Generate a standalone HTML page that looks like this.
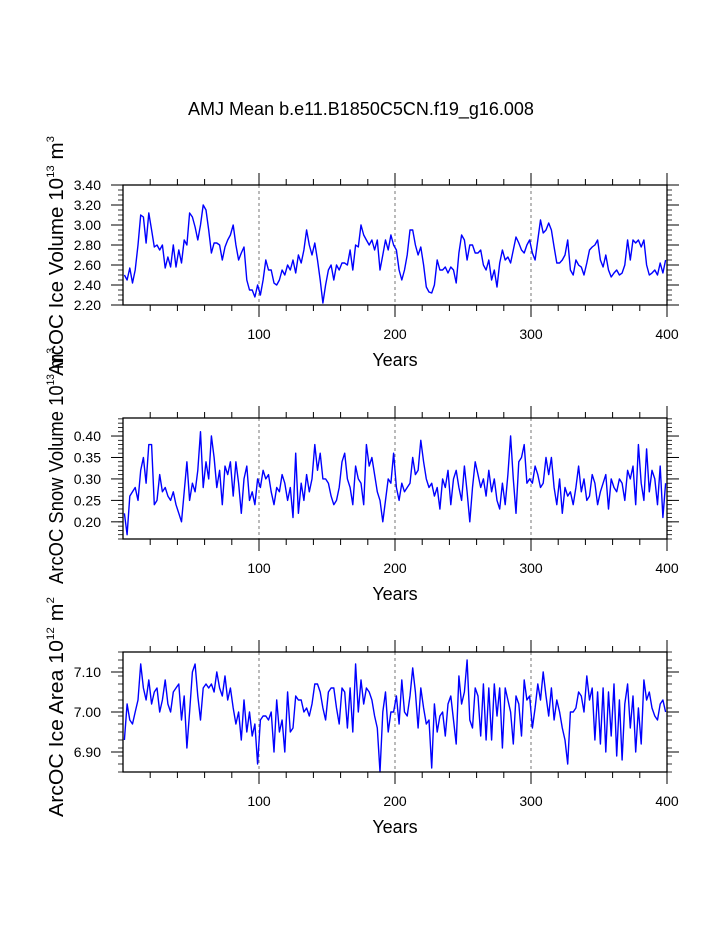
<!DOCTYPE html>
<html><head><meta charset="utf-8"><style>
html,body{margin:0;padding:0;background:#fff;}
svg{display:block;font-family:"Liberation Sans",sans-serif;}
</style></head><body>
<svg id="chart" width="723" height="935" viewBox="0 0 723 935">
<text x="361" y="115" text-anchor="middle" font-size="18">AMJ Mean b.e11.B1850C5CN.f19_g16.008</text>
<g id="plots"></g>
</svg>
<script>
const iceVolume=[2.50,2.45,2.57,2.42,2.55, 2.80,3.10,3.08,2.82,3.12, 2.95,2.78,2.80,2.75,2.80, 2.57,2.68,2.58,2.80,2.58, 2.75,2.62,2.85,2.80,3.12, 3.08,2.98,2.85,3.00,3.20, 3.15,2.95,2.72,2.82,2.82, 2.80,2.65,2.78,2.85,2.90, 3.00,2.80,2.65,2.72,2.78, 2.45,2.35,2.35,2.28,2.40,
2.30,2.45,2.65,2.55,2.55, 2.42,2.40,2.45,2.55,2.50, 2.60,2.55,2.65,2.52,2.70, 2.62,2.75,2.95,2.80,2.70, 2.82,2.65,2.45,2.22,2.40, 2.55,2.60,2.45,2.60,2.55, 2.62,2.62,2.60,2.75,2.55, 2.80,2.78,3.00,2.90,2.85, 2.80,2.85,2.75,2.85,2.55, 2.70,2.85,2.75,2.90,2.80,
2.75,2.55,2.45,2.55,2.70, 2.95,2.95,2.80,2.70,2.78, 2.60,2.38,2.33,2.32,2.40, 2.65,2.55,2.55,2.58,2.52, 2.58,2.55,2.42,2.72,2.90, 2.85,2.65,2.80,2.80,2.72, 2.72,2.75,2.60,2.55,2.65, 2.45,2.55,2.38,2.62,2.75, 2.65,2.68,2.62,2.75,2.88, 2.82,2.75,2.72,2.80,2.85,
2.72,2.65,2.85,3.05,2.92, 2.95,3.02,2.95,2.78,2.62, 2.62,2.65,2.70,2.85,2.55, 2.50,2.65,2.60,2.58,2.50, 2.62,2.75,2.78,2.80,2.85, 2.65,2.58,2.70,2.55,2.48, 2.52,2.55,2.50,2.52,2.60, 2.85,2.65,2.85,2.82,2.85, 2.78,2.85,2.60,2.50,2.52, 2.55,2.50,2.62,2.52,2.65];
const snowVolume=[0.22,0.17,0.26,0.27,0.28, 0.25,0.32,0.35,0.29,0.38, 0.38,0.24,0.25,0.31,0.27, 0.28,0.26,0.25,0.27,0.24, 0.22,0.20,0.27,0.34,0.25, 0.29,0.27,0.32,0.41,0.28, 0.34,0.30,0.40,0.35,0.28, 0.32,0.24,0.33,0.31,0.34, 0.26,0.34,0.29,0.22,0.30, 0.33,0.25,0.27,0.24,0.30,
0.28,0.32,0.30,0.31,0.27, 0.24,0.28,0.27,0.31,0.29, 0.25,0.28,0.21,0.36,0.22, 0.29,0.25,0.31,0.27,0.30, 0.38,0.32,0.36,0.30,0.30, 0.29,0.26,0.24,0.25,0.28, 0.34,0.36,0.30,0.28,0.24, 0.33,0.30,0.29,0.24,0.38, 0.33,0.35,0.31,0.27,0.25, 0.20,0.25,0.30,0.29,0.36,
0.28,0.25,0.29,0.27,0.28, 0.29,0.35,0.31,0.32,0.39, 0.34,0.30,0.28,0.29,0.26, 0.28,0.23,0.30,0.28,0.32, 0.24,0.30,0.32,0.28,0.25, 0.33,0.27,0.20,0.28,0.34, 0.31,0.28,0.30,0.26,0.32, 0.27,0.30,0.25,0.23,0.29, 0.24,0.31,0.40,0.30,0.22, 0.34,0.35,0.38,0.29,0.30,
0.29,0.33,0.31,0.28,0.29, 0.35,0.31,0.35,0.28,0.24, 0.30,0.22,0.28,0.26,0.27, 0.24,0.28,0.33,0.27,0.30, 0.25,0.26,0.31,0.29,0.24, 0.27,0.29,0.31,0.23,0.30, 0.28,0.27,0.30,0.29,0.25, 0.32,0.30,0.33,0.24,0.38, 0.29,0.25,0.37,0.27,0.32, 0.30,0.24,0.33,0.21,0.29];
const iceArea=[6.93,7.02,6.98,6.97,7.00, 7.03,7.12,7.06,7.03,7.08, 7.02,7.05,7.06,7.00,7.03, 7.08,7.02,7.00,7.05,7.06, 7.07,6.98,7.04,6.91,7.00, 7.10,7.12,7.04,6.98,7.06, 7.07,7.06,7.07,7.05,7.10, 7.06,7.04,7.09,7.03,7.06, 7.01,6.97,7.00,6.93,7.03, 6.95,7.00,6.94,6.97,6.87,
6.98,6.99,6.99,6.98,7.00, 6.90,7.03,6.95,6.98,6.90, 7.05,6.95,6.96,7.04,7.03, 7.03,7.00,7.01,6.99,7.02, 7.07,7.07,7.05,7.01,6.98, 7.05,7.06,7.06,7.01,6.97, 7.06,7.05,6.96,7.06,6.95, 7.12,7.00,7.08,7.02,7.06, 7.05,7.03,6.99,6.96,6.85, 7.00,7.05,6.95,7.00,7.00,
7.04,6.97,7.08,7.00,6.99, 7.04,7.11,7.05,6.96,7.06, 7.01,6.97,6.98,6.86,7.02, 6.95,6.99,7.00,6.94,7.02, 7.04,6.98,6.92,7.09,7.02, 7.05,7.13,6.98,6.96,7.06, 7.04,6.94,7.07,6.93,7.06, 6.93,7.07,6.99,7.06,6.91, 7.06,7.03,7.00,6.92,7.04, 7.02,6.94,7.08,7.03,7.04,
6.96,7.01,7.07,7.03,7.10, 7.04,6.99,7.06,6.98,7.03, 7.00,6.96,6.93,6.87,7.00, 7.00,7.01,7.05,7.04,7.00, 7.09,7.03,7.06,6.93,7.05, 6.92,7.06,6.90,7.05,6.94, 7.07,6.89,7.03,6.88,7.02, 7.07,6.96,7.04,6.90,7.01, 6.92,7.08,7.03,7.05,7.01, 6.99,6.98,7.02,7.03,7.00];
const xTickLabels=["100","200","300","400"];
const volTicks=[2.20,2.40,2.60,2.80,3.00,3.20,3.40];
const snowTicks=[0.20,0.25,0.30,0.35,0.40];
const areaTicks=[6.90,7.00,7.10];

const NS="http://www.w3.org/2000/svg";
const g=document.getElementById('plots');
function mk(tag,attrs,parent){const e=document.createElementNS(NS,tag);for(const k in attrs)e.setAttribute(k,attrs[k]);(parent||g).appendChild(e);return e;}
const X0=123,X1=667;
const xs=yr=>X0+(X1-X0)*yr/400;

function panel(id,top,bot,ymin,ymax,ticks,minorStep,dec,data,titleHTML,titleY,titleLen){
  const ys=v=>bot-(v-ymin)/(ymax-ymin)*(bot-top);
  const pg=mk('g',{});
  
  
  [100,200,300].forEach(v=>{const l=mk('line',{x1:xs(v),x2:xs(v),y1:top,y2:bot,stroke:'#555','stroke-width':0.8,'stroke-dasharray':'3,3'},pg);
    });
  for(let v=20;v<400;v+=20){const len=v%100===0?12:6;
    mk('line',{x1:xs(v),x2:xs(v),y1:top,y2:top-len,stroke:'#000','stroke-width':1},pg);
    mk('line',{x1:xs(v),x2:xs(v),y1:bot,y2:bot+len,stroke:'#000','stroke-width':1},pg);}
  mk('line',{x1:X1,x2:X1,y1:bot,y2:bot+12,stroke:'#000','stroke-width':1},pg);
  mk('line',{x1:X1,x2:X1,y1:top,y2:top-12,stroke:'#000','stroke-width':1},pg);
  xTickLabels.forEach(s=>{const t=mk('text',{x:xs(+s),y:bot+34,'text-anchor':'middle','font-size':14},pg);t.textContent=s;
    });
  for(let v=ymin;v<=ymax+1e-9;v+=minorStep){const yy=ys(v);
    mk('line',{x1:X0,x2:X0-5,y1:yy,y2:yy,stroke:'#000','stroke-width':0.8},pg);
    mk('line',{x1:X1,x2:X1+5,y1:yy,y2:yy,stroke:'#000','stroke-width':0.8},pg);}
  ticks.forEach(v=>{const yy=ys(v);
    mk('line',{x1:X0,x2:X0-12,y1:yy,y2:yy,stroke:'#000','stroke-width':1},pg);
    mk('line',{x1:X1,x2:X1+12,y1:yy,y2:yy,stroke:'#000','stroke-width':1},pg);
    const t=mk('text',{x:X0-22,y:yy+5,'text-anchor':'end','font-size':14},pg);t.textContent=v.toFixed(dec);
    });
  const pts=data.map((v,i)=>xs(1+2*i).toFixed(1)+','+ys(v).toFixed(1)).join(' ');
  const pl=mk('polyline',{points:pts,fill:'none',stroke:'#0000ff','stroke-width':1.4,'stroke-linejoin':'round'},pg);
  
  const fr=mk('rect',{x:X0,y:top,width:X1-X0,height:bot-top,fill:'none',stroke:'#000','stroke-width':1.3},pg);
  
  const xt=mk('text',{x:(X0+X1)/2,y:bot+61,'text-anchor':'middle','font-size':18},pg);xt.textContent='Years';
  
  const yt=mk('text',{x:0,y:0,'text-anchor':'middle','font-size':20},pg);
  yt.innerHTML=titleHTML;
  
  let sc=1;try{const L=yt.getComputedTextLength();if(L>0)sc=titleLen/L;}catch(e){}
  yt.setAttribute('transform','translate(63,'+titleY+') rotate(-90) scale('+sc.toFixed(3)+',1)');
}
const sup=s=>'<tspan dy="-9" font-size="11">'+s+'</tspan><tspan dy="9"> </tspan>';
const supEnd=s=>'<tspan dy="-9" font-size="11">'+s+'</tspan>';
panel('ice-volume',185,305,2.2,3.4,volTicks,0.05,2,iceVolume,'ArcOC Ice Volume 10'+sup('13')+'m'+supEnd('3'),256,240);
panel('snow-volume',418,539,0.16,0.442,snowTicks,0.01,2,snowVolume,'ArcOC Snow Volume 10'+sup('13')+'m'+supEnd('3'),466,236);
panel('ice-area',652,772,6.85,7.15,areaTicks,0.02,2,iceArea,'ArcOC Ice Area 10'+sup('12')+'m'+supEnd('2'),707,220);
</script>
</body></html>
